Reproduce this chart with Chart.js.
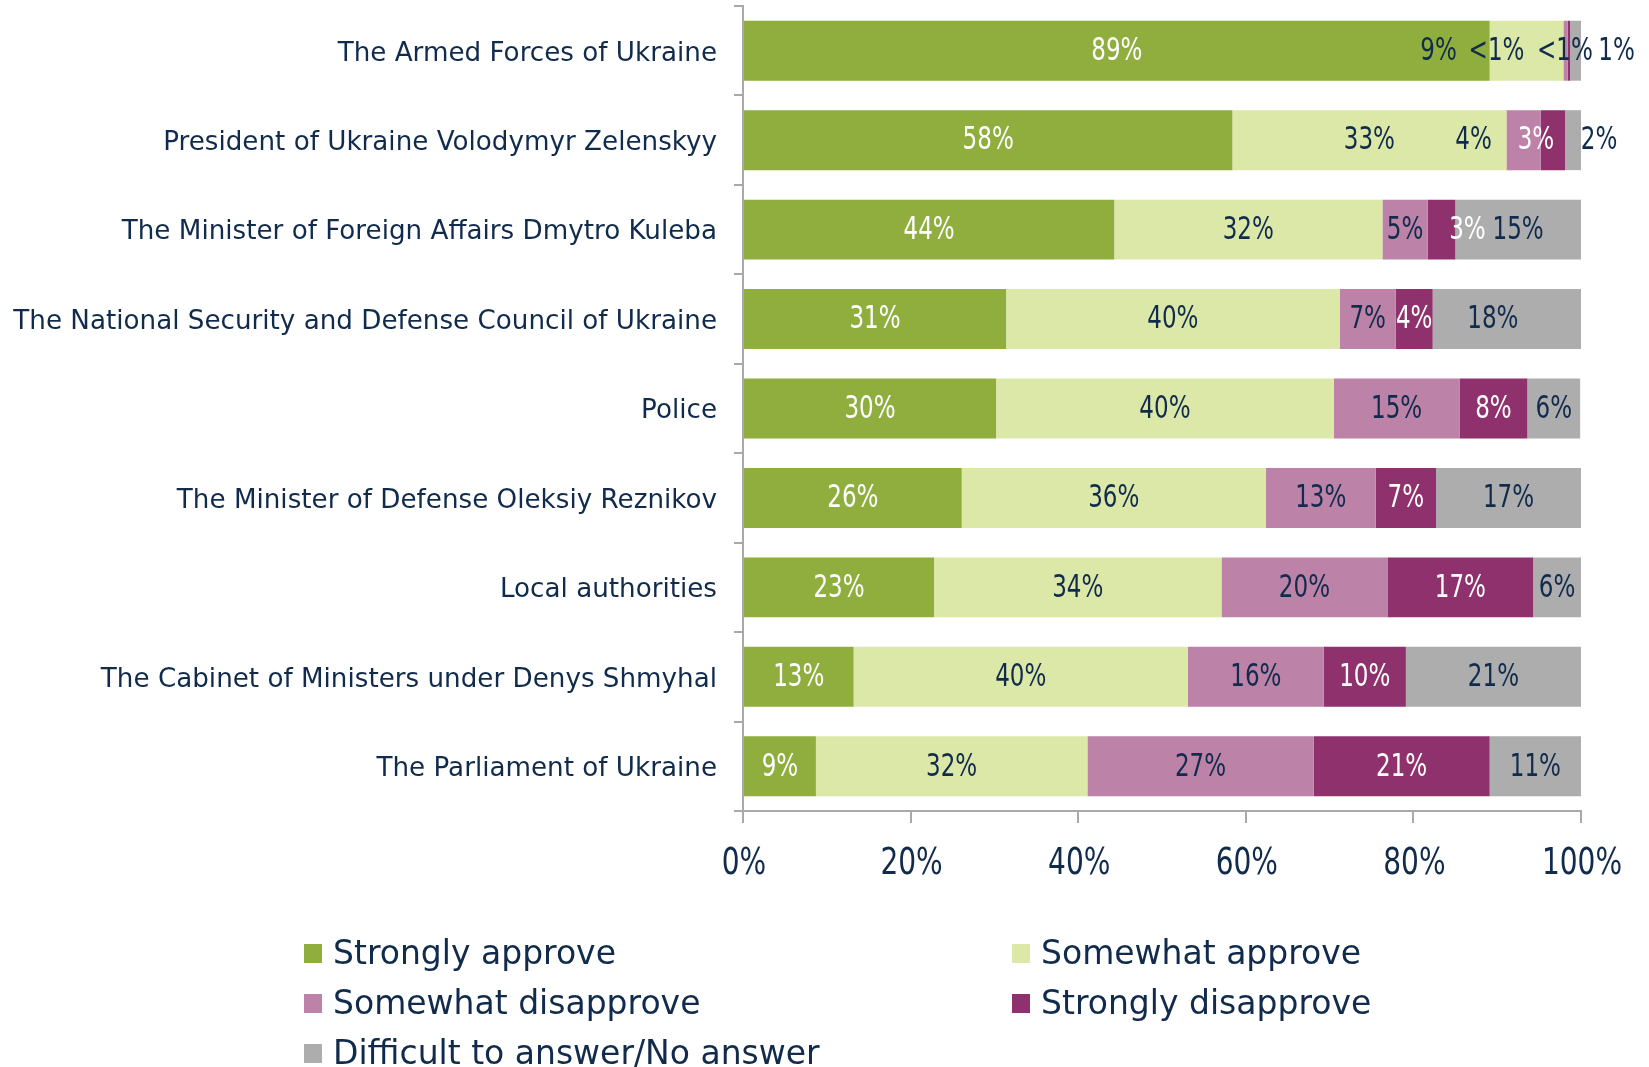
<!DOCTYPE html>
<html>
<head>
<meta charset="utf-8">
<script src="https://cdn.jsdelivr.net/npm/chart.js@4/dist/chart.umd.min.js"></script>
<style>
  html, body { margin: 0; padding: 0; background: #fff; }
  #wrap { width: 1649px; height: 1067px; position: relative; }
</style>
</head>
<body>
<div id="wrap"><canvas id="myChart"></canvas></div>
<script>
// data (percent of respondents)
const categories = [
  "The Armed Forces of Ukraine",
  "President of Ukraine Volodymyr Zelenskyy",
  "The Minister of Foreign Affairs Dmytro Kuleba",
  "The National Security and Defense Council of Ukraine",
  "Police",
  "The Minister of Defense Oleksiy Reznikov",
  "Local authorities",
  "The Cabinet of Ministers under Denys Shmyhal",
  "The Parliament of Ukraine"
];
const seriesNames = ["Strongly approve", "Somewhat approve", "Somewhat disapprove", "Strongly disapprove", "Difficult to answer/No answer"];
const stronglyApprove    = [89.1, 58.4, 44.3, 31.4, 30.2, 26.1, 22.8, 13.2, 8.7];
const somewhatApprove    = [8.8, 32.7, 32.0, 39.8, 40.3, 36.3, 34.3, 39.9, 32.4];
const somewhatDisapprove = [0.5, 4.1, 5.4, 6.7, 15.0, 13.1, 19.8, 16.2, 27.0];
const stronglyDisapprove = [0.3, 2.9, 3.3, 4.4, 8.1, 7.2, 17.4, 9.8, 21.0];
const noAnswer           = [1.3, 1.9, 15.0, 17.7, 6.3, 17.3, 5.7, 20.9, 10.9];
const xTicks = [0, 20, 40, 60, 80, 100];

const colors = ["#8FAE3E", "#DCE8A8", "#BC82A7", "#8E316C", "#ADADAE"];
const labelColors = ["#ffffff", "#112B4C", "#112B4C", "#ffffff", "#112B4C"];
const navy = "#112B4C";
const axisGray = "#A9A9AB";
const textFont = "'DejaVu Sans', sans-serif";
const numFont = "'DejaVu Sans Condensed', 'DejaVu Sans', sans-serif";

// labels that were moved by hand in the original (row,series -> px)
const labelNudge = { "0,1": -88, "0,2": -69, "0,3": -4, "0,4": 41, "1,2": -50, "1,3": -17, "1,4": 26, "2,3": 26, "3,4": -14 };
// the one label that sits outside its own colour
const labelColorFix = { "0,3": navy };

// draw narrow text (the original uses a condensed face)
function narrowText(ctx, txt, x, y, sx) {
  ctx.save();
  ctx.translate(x, y);
  ctx.scale(sx, 1);
  ctx.fillText(txt, 0, 0);
  ctx.restore();
}

const valueLabels = {
  id: "valueLabels",
  afterDatasetsDraw(chart) {
    const ctx = chart.ctx;
    ctx.save();
    ctx.font = "32px " + numFont;
    ctx.textAlign = "center";
    ctx.textBaseline = "middle";
    chart.data.datasets.forEach((ds, si) => {
      chart.getDatasetMeta(si).data.forEach((bar, i) => {
        const v = ds.data[i];
        const txt = v < 1 ? "<1%" : Math.round(v) + "%";
        const key = i + "," + si;
        const x = (bar.x + bar.base) / 2 + (labelNudge[key] || 0);
        ctx.fillStyle = labelColorFix[key] || labelColors[si];
        narrowText(ctx, txt, x, bar.y + 1, 0.8);
      });
    });
    ctx.restore();
  }
};

// x tick labels, taken from the x scale's own ticks
const xTickLabels = {
  id: "xTickLabels",
  afterDraw(chart) {
    const ctx = chart.ctx;
    const sc = chart.scales.x;
    ctx.save();
    ctx.font = "38px " + numFont;
    ctx.textAlign = "center";
    ctx.textBaseline = "alphabetic";
    ctx.fillStyle = navy;
    sc.ticks.forEach(t => {
      narrowText(ctx, t.value + "%", sc.getPixelForValue(t.value) + 1, sc.top + 63, 0.82);
    });
    ctx.restore();
  }
};

// two-column legend under the axis
const gridLegend = {
  id: "gridLegend",
  afterDraw(chart) {
    const ctx = chart.ctx;
    const cols = [304, 1012];
    const rows = [954, 1004, 1054];
    ctx.save();
    ctx.font = "33px " + textFont;
    ctx.textBaseline = "middle";
    ctx.textAlign = "left";
    chart.data.datasets.forEach((ds, i) => {
      const x = cols[i % 2];
      const y = rows[Math.floor(i / 2)];
      ctx.fillStyle = ds.backgroundColor;
      ctx.fillRect(x, y - 10, 18, 19);
      ctx.fillStyle = navy;
      ctx.fillText(ds.label, x + 29, y + 1);
    });
    ctx.restore();
  }
};

const seriesData = [stronglyApprove, somewhatApprove, somewhatDisapprove, stronglyDisapprove, noAnswer];

new Chart(document.getElementById("myChart"), {
  type: "bar",
  data: {
    labels: categories,
    datasets: seriesData.map((d, i) => ({
      label: seriesNames[i],
      data: d,
      backgroundColor: colors[i],
      borderWidth: 0,
      categoryPercentage: 1,
      barPercentage: 0.67
    }))
  },
  options: {
    indexAxis: "y",
    responsive: true,
    maintainAspectRatio: false,
    animation: false,
    layout: { padding: { top: 6, right: 68, bottom: 186, left: 0 } },
    plugins: { legend: { display: false }, tooltip: { enabled: false } },
    scales: {
      x: {
        stacked: true,
        min: 0,
        max: 100,
        afterBuildTicks: (scale) => { scale.ticks = xTicks.map(v => ({ value: v })); },
        afterFit: (scale) => { scale.height = 70; scale.paddingLeft = 0; scale.paddingRight = 0; },
        grid: { drawOnChartArea: false, drawTicks: true, tickLength: 12, color: axisGray, lineWidth: 2 },
        border: { display: true, color: axisGray, width: 2 },
        ticks: { display: false }
      },
      y: {
        stacked: true,
        afterFit: (scale) => { scale.width = 743; scale.paddingTop = 0; scale.paddingBottom = 0; },
        grid: { drawOnChartArea: false, drawTicks: true, tickLength: 9, color: axisGray, lineWidth: 2, offset: true },
        border: { display: true, color: axisGray, width: 2 },
        ticks: {
          color: navy,
          font: { family: textFont, size: 26.2 },
          padding: 17,
          labelOffset: 3
        }
      }
    }
  },
  plugins: [valueLabels, xTickLabels, gridLegend]
});
</script>
</body>
</html>
